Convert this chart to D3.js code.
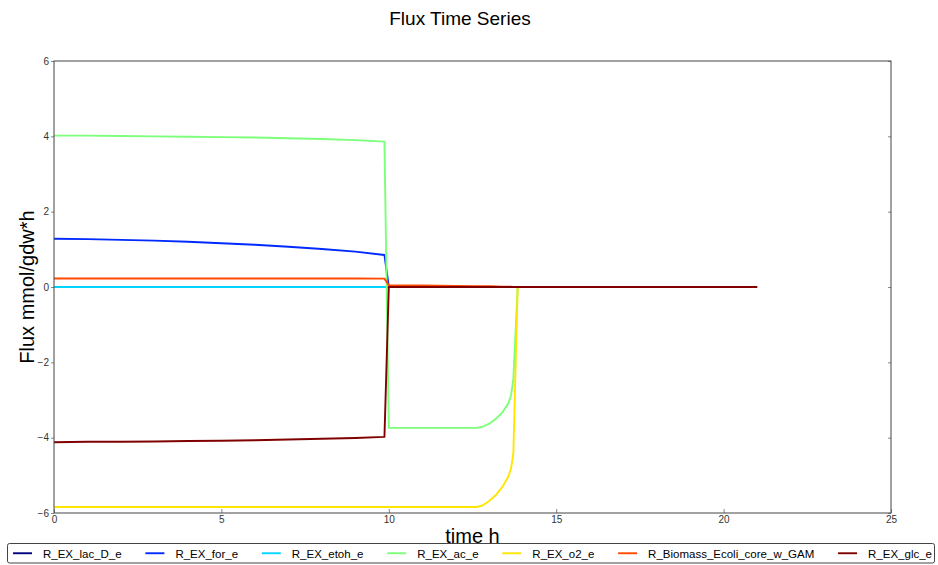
<!DOCTYPE html>
<html>
<head>
<meta charset="utf-8">
<script src="https://cdn.jsdelivr.net/npm/d3@7"></script>
<style>
  html, body { margin: 0; padding: 0; background: #fff; }
  svg { display: block; font-family: "Liberation Sans", Arial, sans-serif; }
</style>
</head>
<body>
<svg id="chart" width="938" height="565"></svg>
<script>
// Simulation time points (h)
const time = [0, 1, 2, 3, 4, 5, 6, 7, 8, 9, 9.87, 10, 10.5, 11, 11.5, 12, 12.62, 12.8, 13.0, 13.2, 13.4, 13.57, 13.65, 13.72, 13.85, 14, 15, 16, 17, 18, 19, 20, 21];

// Exchange fluxes (mmol/gdw*h) at each time point
const lacD    = [0, 0, 0, 0, 0, 0, 0, 0, 0, 0, 0, 0, 0, 0, 0, 0, 0, 0, 0, 0, 0, 0, 0, 0, 0, 0, 0, 0, 0, 0, 0, 0, 0];
const forE    = [1.28, 1.27, 1.25, 1.23, 1.20, 1.16, 1.12, 1.07, 1.01, 0.94, 0.85, 0, 0, 0, 0, 0, 0, 0, 0, 0, 0, 0, 0, 0, 0, 0, 0, 0, 0, 0, 0, 0, 0];
const etohE   = [0, 0, 0, 0, 0, 0, 0, 0, 0, 0, 0, 0, 0, 0, 0, 0, 0, 0, 0, 0, 0, 0, 0, 0, 0, 0, 0, 0, 0, 0, 0, 0, 0];
const acE     = [4.02, 4.02, 4.01, 4.00, 3.99, 3.98, 3.97, 3.95, 3.93, 3.90, 3.86, -3.74, -3.74, -3.74, -3.74, -3.74, -3.74, -3.71, -3.63, -3.50, -3.32, -3.09, -2.88, -2.45, 0, 0, 0, 0, 0, 0, 0, 0, 0];
const o2E     = [-5.84, -5.84, -5.84, -5.84, -5.84, -5.84, -5.84, -5.84, -5.84, -5.84, -5.84, -5.84, -5.84, -5.84, -5.84, -5.84, -5.84, -5.80, -5.68, -5.52, -5.30, -5.03, -4.82, -4.42, 0, 0, 0, 0, 0, 0, 0, 0, 0];
const biomass = [0.225, 0.225, 0.225, 0.225, 0.225, 0.225, 0.225, 0.225, 0.225, 0.225, 0.222, 0.045, 0.042, 0.038, 0.034, 0.030, 0.024, 0.021, 0.018, 0.014, 0.010, 0.007, 0.005, 0.003, 0, 0, 0, 0, 0, 0, 0, 0, 0];
const glcE    = [-4.12, -4.11, -4.11, -4.10, -4.09, -4.08, -4.07, -4.05, -4.03, -4.01, -3.98, 0, 0, 0, 0, 0, 0, 0, 0, 0, 0, 0, 0, 0, 0, 0, 0, 0, 0, 0, 0, 0, 0];

const seriesNames = ["R_EX_lac_D_e", "R_EX_for_e", "R_EX_etoh_e", "R_EX_ac_e", "R_EX_o2_e", "R_Biomass_Ecoli_core_w_GAM", "R_EX_glc_e"];
const seriesValues = [lacD, forE, etohE, acE, o2E, biomass, glcE];
const seriesColors = ["#000080", "#002aff", "#00d4ff", "#7cff79", "#ffe600", "#ff4800", "#800000"];

const xTicks = [0, 5, 10, 15, 20, 25];
const yTicks = [-6, -4, -2, 0, 2, 4, 6];

const svg = d3.select("#chart");
const plot = { left: 54, right: 891, top: 61, bottom: 513 };

const x = d3.scaleLinear().domain([0, 25]).range([plot.left, plot.right]);
const y = d3.scaleLinear().domain([-6, 6]).range([plot.bottom, plot.top]);

// Title
svg.append("text")
  .attr("x", 460).attr("y", 25)
  .attr("text-anchor", "middle")
  .attr("font-size", 19)
  .attr("fill", "#000")
  .text("Flux Time Series");

// Axes: left labels with short outward ticks, bottom labels with inward ticks
const axisColor = "#444";
const leftAxis = svg.append("g")
  .attr("transform", `translate(${plot.left},0)`)
  .call(d3.axisLeft(y).tickValues(yTicks).tickSize(3).tickPadding(2)
    .tickFormat(d => d3.format("d")(d).replace("-", "\u2212")));
leftAxis.select(".domain").remove();
leftAxis.selectAll("line").attr("stroke", "#888");
leftAxis.selectAll("text").attr("font-size", 10).attr("fill", "#333")
  .attr("font-family", "Liberation Sans, Arial, sans-serif");

const bottomAxis = svg.append("g")
  .attr("transform", `translate(0,${plot.bottom})`)
  .call(d3.axisBottom(x).tickValues(xTicks).tickSizeInner(-4).tickSizeOuter(0).tickPadding(3)
    .tickFormat(d3.format("d")));
bottomAxis.select(".domain").remove();
bottomAxis.selectAll("line").attr("stroke", "#888");
bottomAxis.selectAll("text").attr("font-size", 10).attr("fill", "#333")
  .attr("font-family", "Liberation Sans, Arial, sans-serif");

// Right side inward ticks
const rightAxis = svg.append("g")
  .attr("transform", `translate(${plot.right},0)`)
  .call(d3.axisRight(y).tickValues(yTicks).tickSizeInner(-3).tickSizeOuter(0).tickFormat(""));
rightAxis.select(".domain").remove();
rightAxis.selectAll("line").attr("stroke", "#888");

// Clip for the series
svg.append("clipPath").attr("id", "plotClip")
  .append("rect")
  .attr("x", plot.left).attr("y", plot.top)
  .attr("width", plot.right - plot.left).attr("height", plot.bottom - plot.top);

const line = d3.line()
  .x((d, i) => x(time[i]))
  .y(d => y(d));

const series = svg.append("g").attr("clip-path", "url(#plotClip)");
seriesValues.forEach((vals, k) => {
  series.append("path")
    .datum(vals)
    .attr("d", line)
    .attr("fill", "none")
    .attr("stroke", seriesColors[k])
    .attr("stroke-width", 1.9)
    .attr("stroke-linejoin", "round");
});

// Plot frame
svg.append("rect")
  .attr("x", plot.left).attr("y", plot.top)
  .attr("width", plot.right - plot.left).attr("height", plot.bottom - plot.top)
  .attr("fill", "none")
  .attr("stroke", axisColor)
  .attr("stroke-width", 1);

// Axis titles
svg.append("text")
  .attr("x", (plot.left + plot.right) / 2).attr("y", 543)
  .attr("text-anchor", "middle")
  .attr("font-size", 20)
  .attr("fill", "#000")
  .text("time h");

svg.append("text")
  .attr("transform", `translate(34,${y(0)}) rotate(-90)`)
  .attr("text-anchor", "middle")
  .attr("font-size", 20)
  .attr("fill", "#000")
  .text("Flux mmol/gdw*h");

// Legend: one row, entries laid out from their text widths
const legendBox = { x: 7.5, y: 543.5, w: 927, h: 19.5 };
const legend = svg.append("g");
legend.append("rect")
  .attr("x", legendBox.x).attr("y", legendBox.y)
  .attr("width", legendBox.w).attr("height", legendBox.h)
  .attr("rx", 2)
  .attr("fill", "#fff")
  .attr("stroke", axisColor)
  .attr("stroke-width", 1);

const handleLen = 19, textGap = 11, legendFont = 11.5;
const legendY = legendBox.y + legendBox.h / 2;
const labels = seriesNames.map(name =>
  legend.append("text")
    .attr("font-size", legendFont)
    .attr("fill", "#000")
    .attr("dominant-baseline", "central")
    .text(name));
const widths = labels.map(t => t.node().getComputedTextLength());
const startX = 13, endX = 932;
const used = widths.reduce((a, w) => a + handleLen + textGap + w, 0);
const spacing = (endX - startX - used) / (seriesNames.length - 1);
let cursor = startX;
seriesNames.forEach((name, k) => {
  legend.append("line")
    .attr("x1", cursor).attr("x2", cursor + handleLen)
    .attr("y1", legendY).attr("y2", legendY)
    .attr("stroke", seriesColors[k])
    .attr("stroke-width", 1.9);
  labels[k].attr("x", cursor + handleLen + textGap).attr("y", legendY + 0.5);
  cursor += handleLen + textGap + widths[k] + spacing;
});
</script>
</body>
</html>
